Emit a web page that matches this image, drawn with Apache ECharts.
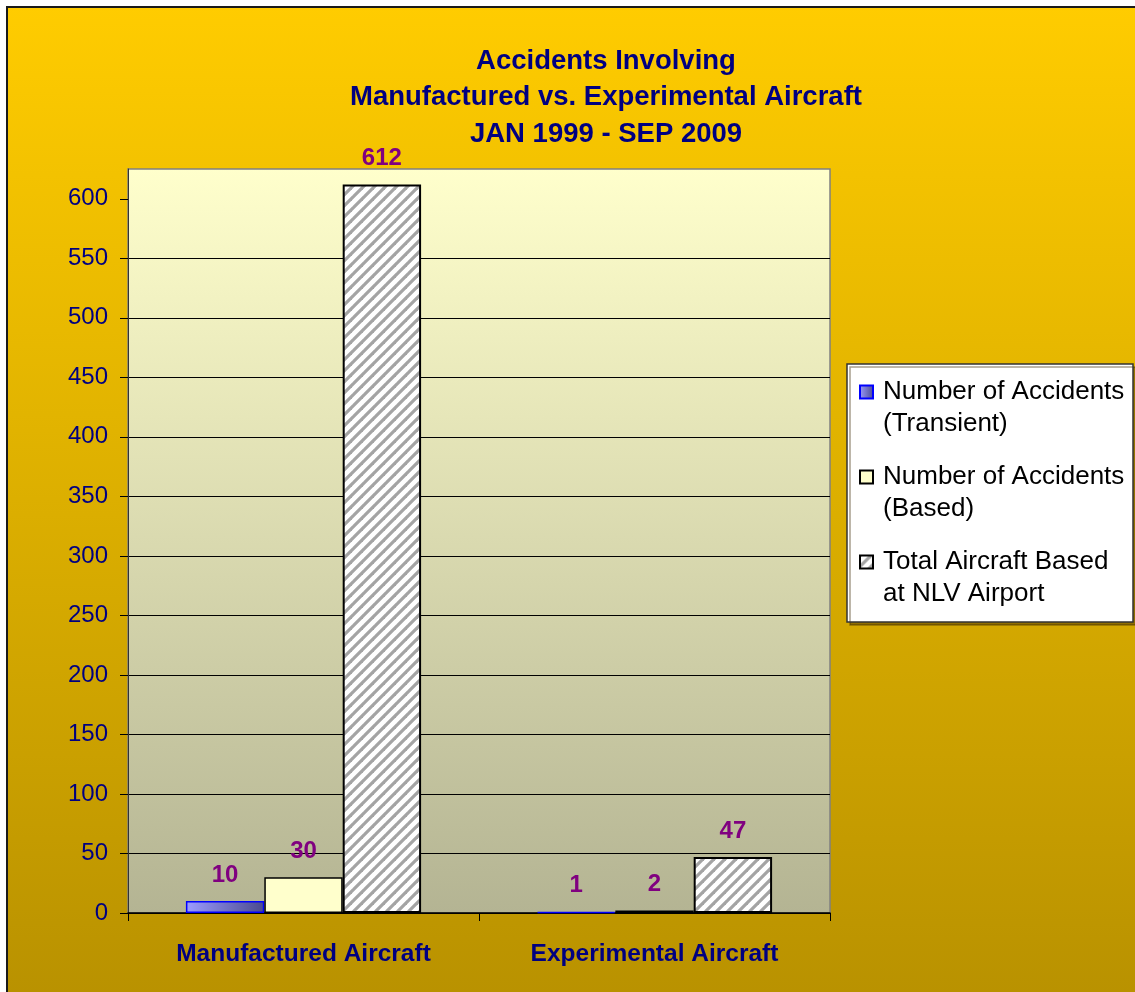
<!DOCTYPE html>
<html>
<head>
<meta charset="utf-8">
<script src="https://cdn.jsdelivr.net/npm/echarts@6/dist/echarts.min.js"></script>
<style>html,body{margin:0;padding:0;background:#fff;}#c{width:1135px;height:992px;}</style>
</head>
<body>
<div id="c"></div>
<script>
const categories = ['Manufactured Aircraft', 'Experimental Aircraft'];
const transientAccidents = [10, 1];
const basedAccidents = [30, 2];
const totalAircraftBased = [612, 47];
const seriesNames = ['Number of Accidents\n(Transient)', 'Number of Accidents\n(Based)', 'Total Aircraft Based\nat NLV Airport'];
const yTickValues = [0, 50, 100, 150, 200, 250, 300, 350, 400, 450, 500, 550, 600];
const titleLines = ['Accidents Involving', 'Manufactured vs. Experimental Aircraft', 'JAN 1999 - SEP 2009'];

const FONT = "'Liberation Sans', Arial, sans-serif";
const NAVY = '#000080';

function hatchPattern() {
  const s = 11;
  const c = document.createElement('canvas');
  c.width = s; c.height = s;
  const g = c.getContext('2d');
  g.fillStyle = '#ffffff';
  g.fillRect(0, 0, s, s);
  g.strokeStyle = '#a4a4a4';
  g.lineWidth = 3.2;
  for (const n of [-1, 0, 1]) {
    const k = s * (1 + n);
    g.beginPath();
    g.moveTo(-s, k + s);
    g.lineTo(2 * s, k - 2 * s);
    g.stroke();
  }
  return { image: c, repeat: 'repeat' };
}

const chart = echarts.init(document.getElementById('c'), null, { renderer: 'canvas' });

const labelStyle = {
  show: true, position: 'top', distance: 14,
  color: '#800080', fontWeight: 'bold', fontSize: 24, fontFamily: FONT
};

chart.setOption({
  backgroundColor: '#ffffff',
  animation: false,
  graphic: [
    {
      type: 'rect', z: -10, silent: true,
      shape: { x: 7, y: 7, width: 1140, height: 1000 },
      style: {
        fill: new echarts.graphic.LinearGradient(0, 0, 0, 1, [
          { offset: 0, color: '#FFCC00' },
          { offset: 1, color: '#B89100' }
        ]),
        stroke: '#1a1a1a', lineWidth: 2
      }
    },
    {
      type: 'rect', z: 1, silent: true,
      shape: { x: 847, y: 364, width: 286, height: 258 },
      style: {
        fill: '#ffffff', stroke: '#333333', lineWidth: 1.5,
        shadowColor: 'rgba(60,40,0,0.45)', shadowOffsetX: 3, shadowOffsetY: 3, shadowBlur: 0
      }
    }
  ],
  title: {
    text: titleLines.join('\n'),
    left: 601, top: 38, textAlign: 'center',
    textStyle: { color: NAVY, fontWeight: 'bold', fontSize: 27.5, lineHeight: 36.5, fontFamily: FONT }
  },
  legend: {
    orient: 'vertical', left: 859, top: 344, padding: 0,
    itemWidth: 13, itemHeight: 13, itemGap: -11, icon: 'rect',
    selectedMode: false,
    formatter: function (name) { return '\n' + name; },
    textStyle: { color: '#000', fontSize: 26, lineHeight: 32, fontFamily: FONT, padding: [0, 0, 0, 5] },
    data: seriesNames
  },
  grid: {
    left: 128, right: 305, top: 169, bottom: 79,
    show: true,
    backgroundColor: new echarts.graphic.LinearGradient(0, 0, 0, 1, [
      { offset: 0, color: '#FFFFCC' },
      { offset: 1, color: '#B4B493' }
    ]),
    borderColor: '#808080', borderWidth: 1.5
  },
  xAxis: {
    type: 'category', data: categories,
    axisLine: { show: true, lineStyle: { color: '#000', width: 1.5 } },
    axisTick: { show: true, length: 8, alignWithLabel: false, lineStyle: { color: '#000' } },
    axisLabel: { color: NAVY, fontWeight: 'bold', fontSize: 24.5, fontFamily: FONT, margin: 29 },
    splitLine: { show: false }
  },
  yAxis: {
    type: 'value', min: 0, max: 625, interval: 50,
    axisLine: { show: true, lineStyle: { color: '#333', width: 1 } },
    axisTick: { show: true, length: 8, lineStyle: { color: '#000' }, customValues: yTickValues },
    axisLabel: {
      color: NAVY, fontSize: 24, fontFamily: FONT, margin: 20,
      customValues: yTickValues
    },
    splitLine: { show: true, showMaxLine: false, lineStyle: { color: '#000', width: 1 } }
  },
  series: [
    {
      name: seriesNames[0], type: 'bar', data: transientAccidents,
      barGap: '0%', barCategoryGap: '33%',
      itemStyle: {
        color: new echarts.graphic.LinearGradient(0, 0, 1, 0, [
          { offset: 0, color: '#9C9CFF' },
          { offset: 1, color: '#4A4A8E' }
        ]),
        borderColor: '#0000FF', borderWidth: 1.5
      },
      label: labelStyle
    },
    {
      name: seriesNames[1], type: 'bar', data: basedAccidents,
      barGap: '0%', barCategoryGap: '33%',
      itemStyle: { color: '#FFFFCC', borderColor: '#000', borderWidth: 1.5 },
      label: labelStyle
    },
    {
      name: seriesNames[2], type: 'bar', data: totalAircraftBased,
      barGap: '0%', barCategoryGap: '33%',
      itemStyle: { color: hatchPattern(), borderColor: '#000', borderWidth: 2 },
      label: labelStyle
    }
  ]
});
</script>
</body>
</html>
